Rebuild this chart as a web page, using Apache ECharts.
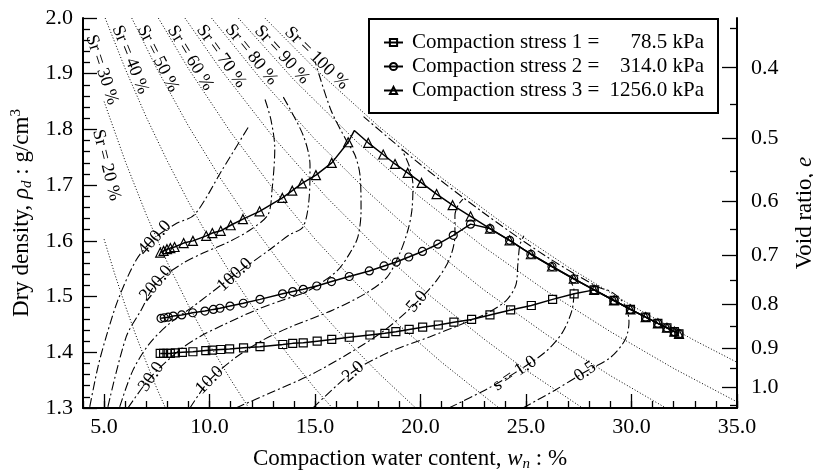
<!DOCTYPE html>
<html>
<head>
<meta charset="utf-8">
<script src="https://cdn.jsdelivr.net/npm/echarts@6/dist/echarts.min.js"></script>
<style>
  html, body { margin: 0; padding: 0; background: #fff; }
  #chart { width: 813px; height: 470px; }
</style>
</head>
<body>
<div id="chart"></div>
<script>
// Compaction curves of a soil, with saturation lines and suction contours.
const FONT = '"Liberation Serif", "DejaVu Serif", "Times New Roman", serif';
const GS = 2.675; // particle density (g/cm3) linking dry density and void ratio

// ---- compaction tests: water content (%) and dry density (g/cm3) ----
const stressLabels = ['78.5', '314.0', '1256.0'];

const water1 = [7.66, 7.82, 7.98, 8.14, 8.38, 8.71, 9.21, 9.82, 10.13, 10.53, 10.95, 11.61, 12.39, 13.47, 13.94, 14.44,
  15.10, 15.79, 16.62, 17.60, 18.31, 18.83, 19.46, 20.10, 20.84, 21.58, 22.42, 23.29, 24.27, 25.25, 26.26, 27.28,
  28.23, 29.17, 29.95, 30.67, 31.25, 31.68, 32.03, 32.25];
const rho1 = [1.398, 1.398, 1.398, 1.398, 1.399, 1.400, 1.401, 1.403, 1.404, 1.405, 1.406, 1.408, 1.410, 1.414, 1.416, 1.417,
  1.420, 1.423, 1.427, 1.431, 1.434, 1.437, 1.441, 1.445, 1.449, 1.454, 1.459, 1.467, 1.476, 1.484, 1.495, 1.505,
  1.512, 1.493, 1.477, 1.463, 1.452, 1.444, 1.437, 1.433];

const water2 = [7.70, 7.85, 8.04, 8.28, 8.68, 9.20, 9.78, 10.18, 10.49, 10.97, 11.60, 12.39, 13.46, 13.94, 14.44, 15.08,
  15.78, 16.62, 17.57, 18.27, 18.85, 19.44, 20.09, 20.82, 21.55, 22.37, 23.29, 24.22, 25.23, 26.23, 27.26, 28.23,
  29.17, 29.95, 30.67, 31.25, 31.68, 32.03, 32.25];
const rho2 = [1.461, 1.462, 1.463, 1.465, 1.467, 1.471, 1.474, 1.477, 1.479, 1.483, 1.488, 1.495, 1.505, 1.509, 1.513, 1.519,
  1.527, 1.536, 1.546, 1.555, 1.562, 1.571, 1.581, 1.594, 1.610, 1.630, 1.622, 1.601, 1.576, 1.554, 1.532, 1.512,
  1.493, 1.477, 1.463, 1.452, 1.444, 1.437, 1.433];

const water3 = [7.66, 7.82, 7.98, 8.14, 8.34, 8.77, 9.21, 9.84, 10.13, 10.53, 11.00, 11.58, 12.37, 13.45, 13.92, 14.38,
  15.04, 15.79, 16.57, 16.86, 17.52, 18.23, 18.79, 19.39, 20.05, 20.76, 21.52, 22.37, 23.29, 24.22, 25.23, 26.23,
  27.26, 28.23, 29.17, 29.95, 30.67, 31.25, 31.68, 32.03, 32.25];
const rho3 = [1.579, 1.582, 1.585, 1.587, 1.589, 1.596, 1.600, 1.609, 1.614, 1.618, 1.628, 1.639, 1.653, 1.677, 1.690, 1.703,
  1.718, 1.740, 1.777, 1.798, 1.776, 1.755, 1.738, 1.722, 1.704, 1.684, 1.664, 1.644, 1.622, 1.601, 1.576, 1.554,
  1.532, 1.512, 1.493, 1.477, 1.463, 1.452, 1.444, 1.437, 1.433];
const peakIndex3 = 19; // vertex of the 1256 kPa curve, drawn without a marker

// ---- saturation lines [w %, rho_d] ----
const sat20 = [[5, 1.603], [5.5, 1.541], [6, 1.484], [6.5, 1.431], [7, 1.382], [7.5, 1.335], [7.91, 1.300]];
const sat30 = [[5, 1.850], [6, 1.743], [7, 1.647], [8, 1.561], [9, 1.484], [10, 1.414], [11, 1.351], [11.86, 1.300]];
const sat40 = [[5.05, 2.000], [6, 1.909], [7, 1.822], [8, 1.743], [9, 1.670], [10, 1.603], [11, 1.541], [12, 1.484],
  [13, 1.431], [14, 1.382], [15, 1.335], [15.82, 1.300]];
const sat50 = [[6.31, 2.000], [7.5, 1.909], [9, 1.806], [10.5, 1.713], [12, 1.629], [13.5, 1.553], [15, 1.484],
  [16.5, 1.421], [18, 1.363], [19.77, 1.300]];
const sat60 = [[7.57, 2.000], [9, 1.909], [11, 1.795], [13, 1.694], [15, 1.603], [17, 1.522], [19, 1.448], [21, 1.382],
  [23.72, 1.300]];
const sat70 = [[8.83, 2.000], [10.5, 1.909], [13, 1.787], [15.5, 1.680], [18, 1.585], [20.5, 1.500], [23, 1.424],
  [25, 1.368], [27.68, 1.300]];
const sat80 = [[10.09, 2.000], [12.5, 1.887], [15, 1.782], [17.5, 1.688], [20, 1.603], [23, 1.512], [26, 1.431],
  [29, 1.358], [31.63, 1.300]];
const sat90 = [[11.36, 2.000], [14, 1.889], [17, 1.777], [20, 1.678], [23, 1.589], [26, 1.509], [29, 1.437],
  [32, 1.371], [35, 1.311]];
const sat100 = [[12.62, 2.000], [15, 1.909], [18, 1.806], [21, 1.713], [24, 1.629], [27, 1.553], [30, 1.484],
  [33, 1.421], [35, 1.382]];
const satLines = [sat20, sat30, sat40, sat50, sat60, sat70, sat80, sat90, sat100];

// label text, anchor [w, rho] and slope angle (deg) for each saturation line
const satLabels = [
  ['Sr = 20 %', 5.11, 1.736, 76], ['Sr = 30 %', 4.90, 1.907, 72], ['Sr = 40 %', 6.24, 1.925, 68],
  ['Sr = 50 %', 7.55, 1.927, 63], ['Sr = 60 %', 9.09, 1.928, 58.5], ['Sr = 70 %', 10.55, 1.931, 54.5],
  ['Sr = 80 %', 11.98, 1.934, 51], ['Sr = 90 %', 13.43, 1.934, 47.5], ['Sr = 100 %', 15.07, 1.928, 44.5]
];

// ---- suction contours (kPa) [w %, rho_d] ----
const suction400 = [[4.32, 1.302], [4.71, 1.374], [5.10, 1.428], [5.66, 1.494], [6.53, 1.566], [7.40, 1.605],
  [8.42, 1.631], [9.29, 1.647], [10.59, 1.727], [11.90, 1.808]];
const suction200 = [[5.18, 1.302], [6.05, 1.428], [6.76, 1.476], [7.47, 1.524], [8.74, 1.560], [9.69, 1.578],
  [10.79, 1.596], [11.90, 1.619], [12.77, 1.647], [12.96, 1.691], [13.09, 1.766], [12.91, 1.817], [12.61, 1.856]];
const suction100 = [[5.74, 1.302], [6.37, 1.368], [7.16, 1.416], [8.11, 1.452], [9.21, 1.482], [11.19, 1.539],
  [12.84, 1.584], [13.79, 1.611], [14.43, 1.625], [14.71, 1.673], [14.76, 1.736], [14.43, 1.790], [13.48, 1.859]];
const suction30 = [[6.13, 1.300], [7.22, 1.356], [8.58, 1.404], [9.53, 1.428], [10.64, 1.449], [12.21, 1.476],
  [13.48, 1.494], [14.43, 1.506], [15.23, 1.523], [16.09, 1.548], [16.65, 1.578], [17.03, 1.607], [17.18, 1.655],
  [17.13, 1.718], [16.89, 1.754], [16.50, 1.779], [15.75, 1.835], [15.00, 1.922]];
const suction10 = [[9.07, 1.300], [10.0, 1.350], [11.25, 1.391], [12.53, 1.422], [13.81, 1.445], [15.85, 1.476],
  [17.41, 1.506], [18.41, 1.535], [19.02, 1.578], [19.40, 1.619], [19.59, 1.655], [19.64, 1.700], [19.45, 1.736],
  [19.12, 1.763]];
const suction5 = [[11.25, 1.300], [12.86, 1.327], [14.76, 1.359], [16.65, 1.399], [18.31, 1.440], [19.83, 1.490],
  [20.78, 1.530], [21.39, 1.569], [21.63, 1.610], [21.63, 1.646], [21.78, 1.664], [22.01, 1.675]];
const suction2 = [[14.90, 1.300], [16.80, 1.365], [18.55, 1.401], [20.45, 1.428], [22.11, 1.453], [23.29, 1.473],
  [24.09, 1.494], [24.52, 1.521], [24.61, 1.557], [24.71, 1.593], [24.90, 1.609]];
const suction1 = [[21.34, 1.300], [23.05, 1.332], [24.47, 1.363], [25.90, 1.400], [26.70, 1.434], [27.18, 1.476],
  [27.27, 1.512], [27.08, 1.530]];
const suction05 = [[24.85, 1.300], [26.37, 1.332], [27.81, 1.365], [28.98, 1.390], [29.69, 1.422], [29.88, 1.454],
  [29.69, 1.485], [29.07, 1.508], [28.41, 1.517], [26.0, 1.571], [23.0, 1.650], [20.0, 1.737], [17.3, 1.823]];
const suctionLines = [suction400, suction200, suction100, suction30, suction10, suction5, suction2, suction1, suction05];

// label text, anchor [w, rho] and angle (deg)
const suctionLabels = [
  ['400.0', 7.40, 1.605, 48], ['200.0', 7.47, 1.524, 50], ['100.0', 11.19, 1.539, 42],
  ['30.0', 7.24, 1.356, 55], ['10.0', 10.0, 1.350, 45], ['5.0', 19.84, 1.491, 50],
  ['2.0', 16.81, 1.365, 40], ['s = 1.0', 24.47, 1.362, 34], ['0.5', 27.81, 1.365, 35]
];

// ---- axes ----
const waterTicks = [5, 10, 15, 20, 25, 30, 35];
const voidMajor = [0.4, 0.5, 0.6, 0.7, 0.8, 0.9, 1.0];
const voidMinor = [0.35, 0.45, 0.55, 0.65, 0.75, 0.85, 0.95, 1.05];
const toDensity = e => GS / (1 + e);

const zip = (xs, ys) => xs.map((x, i) => [x, ys[i]]);

const chart = echarts.init(document.getElementById('chart'), null, { renderer: 'canvas' });

const black = '#000';
const baseText = { fontFamily: FONT, color: black };

function textSeries(items, fontSize, sign) {
  return {
    type: 'custom',
    coordinateSystem: 'cartesian2d',
    silent: true,
    z: 4,
    data: items.map(d => [d[1], d[2]]),
    renderItem: (params, api) => {
      const item = items[params.dataIndex];
      const p = api.coord([api.value(0), api.value(1)]);
      return {
        type: 'text',
        x: p[0], y: p[1],
        rotation: sign * item[3] * Math.PI / 180,
        style: { text: item[0], fontFamily: FONT, fontSize: fontSize, fill: black, align: 'center', verticalAlign: 'middle' }
      };
    }
  };
}

const series = [];
satLines.forEach(line => series.push({
  type: 'line', data: line, symbol: 'none', silent: true, z: 1,
  lineStyle: { color: black, width: 1, type: [1, 2] }
}));
suctionLines.forEach(line => series.push({
  type: 'line', data: line, symbol: 'none', silent: true, smooth: 0.3, z: 1,
  lineStyle: { color: black, width: 1.1, type: [9, 3, 2, 3] }
}));
series.push(textSeries(satLabels, 18, -1));
series.push(textSeries(suctionLabels, 18, 1));

const markerStyle = { color: 'rgba(0,0,0,0)', borderColor: black, borderWidth: 1.2 };
series.push({
  name: 'Compaction stress 1', type: 'line', data: zip(water1, rho1), symbol: 'rect', symbolSize: 8,
  itemStyle: markerStyle, lineStyle: { color: black, width: 1.5 }, z: 5
});
series.push({
  name: 'Compaction stress 2', type: 'line', data: zip(water2, rho2), symbol: 'circle', symbolSize: 8,
  itemStyle: markerStyle, lineStyle: { color: black, width: 1.5 }, z: 5
});
series.push({
  name: 'Compaction stress 3', type: 'line', symbol: 'triangle', symbolSize: 9,
  data: zip(water3, rho3).map((p, i) => i === peakIndex3 ? { value: p, symbol: 'none' } : p),
  itemStyle: markerStyle, lineStyle: { color: black, width: 1.5 }, z: 5
});

const option = {
  animation: false,
  backgroundColor: '#fff',
  textStyle: baseText,
  grid: { left: 83, right: 76, top: 18, bottom: 62, containLabel: false, outerBoundsMode: 'none' },
  legend: {
    orient: 'vertical', left: 369, top: 19,
    padding: [13, 14, 12, 14], itemGap: 3, itemWidth: 19, itemHeight: 9,
    borderColor: black, borderWidth: 2, backgroundColor: '#fff',
    data: ['Compaction stress 1', 'Compaction stress 2', 'Compaction stress 3'],
    formatter: name => {
      const i = Number(name.slice(-1)) - 1;
      return '{a|' + name + ' =}{b|' + stressLabels[i] + ' kPa}';
    },
    textStyle: {
      fontFamily: FONT, fontSize: 21, color: black, padding: [0, 0, 0, 4],
      rich: {
        a: { fontFamily: FONT, fontSize: 21, width: 192, lineHeight: 24 },
        b: { fontFamily: FONT, fontSize: 21, width: 100, align: 'right', lineHeight: 24 }
      }
    }
  },
  xAxis: [
    {
      type: 'value', min: 4, max: 35, interval: 1,
      name: 'Compaction water content, {it|w}{sub|n} : %',
      nameLocation: 'middle', nameGap: 38,
      nameTextStyle: {
        fontFamily: FONT, fontSize: 23, color: black, lineHeight: 26,
        rich: {
          it: { fontFamily: FONT, fontSize: 23, fontStyle: 'italic', lineHeight: 26 },
          sub: { fontFamily: FONT, fontSize: 15, fontStyle: 'italic', verticalAlign: 'bottom', lineHeight: 15 }
        }
      },
      axisLine: { show: true, lineStyle: { color: black, width: 2 } },
      axisTick: { show: true, inside: true, length: 7, lineStyle: { color: black, width: 1.3 } },
      axisLabel: {
        customValues: waterTicks, margin: 8, fontFamily: FONT, fontSize: 22, color: black,
        formatter: v => v.toFixed(1)
      },
      splitLine: { show: false }
    },
    {
      type: 'value', min: 4, max: 35, position: 'bottom',
      axisLine: { show: false },
      axisTick: { show: true, inside: true, length: 14, customValues: waterTicks, lineStyle: { color: black, width: 1.3 } },
      axisLabel: { show: false },
      splitLine: { show: false }
    }
  ],
  yAxis: [
    {
      type: 'value', min: 1.3, max: 2.0, interval: 0.1, position: 'left',
      name: 'Dry density, {it|ρ}{sub|d} : g/cm{sup|3}',
      nameLocation: 'middle', nameGap: 47,
      nameTextStyle: {
        fontFamily: FONT, fontSize: 23, color: black, lineHeight: 26,
        rich: {
          it: { fontFamily: FONT, fontSize: 23, fontStyle: 'italic', lineHeight: 26 },
          sub: { fontFamily: FONT, fontSize: 15, fontStyle: 'italic', verticalAlign: 'bottom', lineHeight: 15 },
          sup: { fontFamily: FONT, fontSize: 15, verticalAlign: 'top', lineHeight: 15 }
        }
      },
      axisLine: { show: true, lineStyle: { color: black, width: 2 } },
      axisTick: { show: true, inside: true, length: 14, lineStyle: { color: black, width: 1.3 } },
      minorTick: { show: true, splitNumber: 5, length: 7, lineStyle: { color: black, width: 1.3 } },
      axisLabel: { margin: 10, fontFamily: FONT, fontSize: 22, color: black, formatter: v => v.toFixed(1) },
      splitLine: { show: false }
    },
    {
      type: 'value', min: 1.3, max: 2.0, position: 'right',
      name: 'Void ratio, {it|e}', nameLocation: 'middle', nameGap: 56, nameRotate: 90,
      nameTextStyle: {
        fontFamily: FONT, fontSize: 23, color: black,
        rich: { it: { fontFamily: FONT, fontSize: 23, fontStyle: 'italic' } }
      },
      axisLine: { show: true, lineStyle: { color: black, width: 2 } },
      axisTick: { show: true, inside: true, length: 15, customValues: voidMajor.map(toDensity), lineStyle: { color: black, width: 1.3 } },
      axisLabel: {
        customValues: voidMajor.map(toDensity), margin: 14, fontFamily: FONT, fontSize: 22, color: black,
        formatter: v => (GS / v - 1).toFixed(1)
      },
      splitLine: { show: false }
    },
    {
      type: 'value', min: 1.3, max: 2.0, position: 'right',
      axisLine: { show: false },
      axisTick: { show: true, inside: true, length: 7, customValues: voidMinor.map(toDensity), lineStyle: { color: black, width: 1.3 } },
      axisLabel: { show: false },
      splitLine: { show: false }
    }
  ],
  series: series
};

chart.setOption(option);
</script>
</body>
</html>
